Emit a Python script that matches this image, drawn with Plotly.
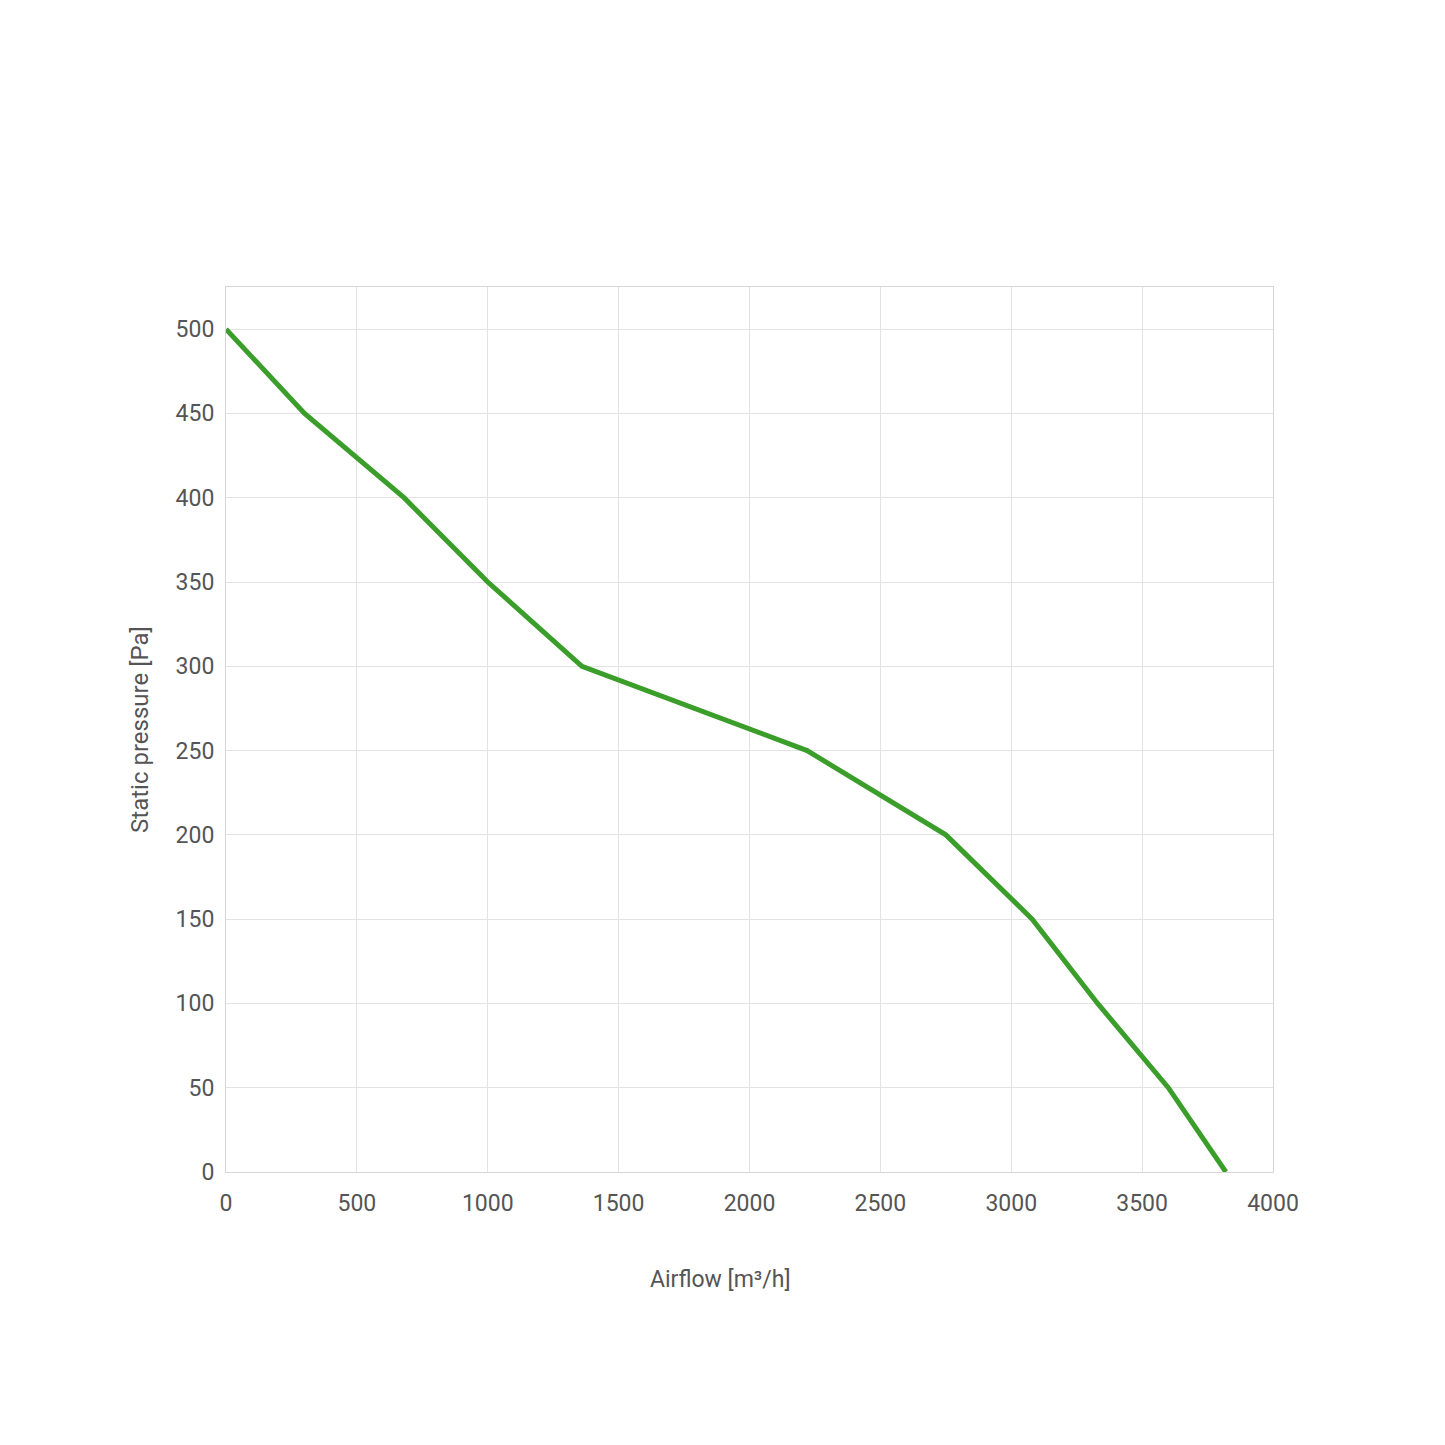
import plotly.graph_objects as go

airflow = [0, 300, 680, 1000, 1360, 2220, 2750, 3080, 3330, 3600, 3820]
pressure = [500, 450, 400, 350, 300, 250, 200, 150, 100, 50, 0]

x_ticks = [0, 500, 1000, 1500, 2000, 2500, 3000, 3500, 4000]
y_ticks = [0, 50, 100, 150, 200, 250, 300, 350, 400, 450, 500]

fig = go.Figure()
fig.add_trace(go.Scatter(x=airflow, y=pressure, mode="lines",
                         line=dict(color="#3b9e2b", width=5), showlegend=False))

axis_common = dict(showgrid=True, gridcolor="#e3e3e3", gridwidth=1,
                   showline=True, linecolor="#d6d6d6", linewidth=1, mirror=True,
                   zeroline=False, ticks="", tickfont=dict(family="Roboto", size=23, color="#555555"))

fig.update_layout(
    width=1445, height=1445,
    paper_bgcolor="white", plot_bgcolor="white",
    margin=dict(l=218, r=180, t=279, b=281),
    font=dict(family="Roboto", color="#555555"),
    xaxis=dict(range=[0, 4000], tickvals=x_ticks, ticktext=[str(v) for v in x_ticks],
               ticklabelstandoff=10, **axis_common),
    yaxis=dict(range=[0, 525], tickvals=y_ticks, ticktext=[str(v) for v in y_ticks],
               ticklabelstandoff=6,
               title=dict(text="Static pressure [Pa]", font=dict(size=24, color="#555555"), standoff=20),
               **axis_common),
    annotations=[dict(text="Airflow [m³/h]", xref="paper", yref="paper",
                      x=0.472, y=-0.122, xanchor="center", yanchor="middle",
                      showarrow=False, font=dict(size=23, color="#555555"))],
)

fig.write_html("out.html")
